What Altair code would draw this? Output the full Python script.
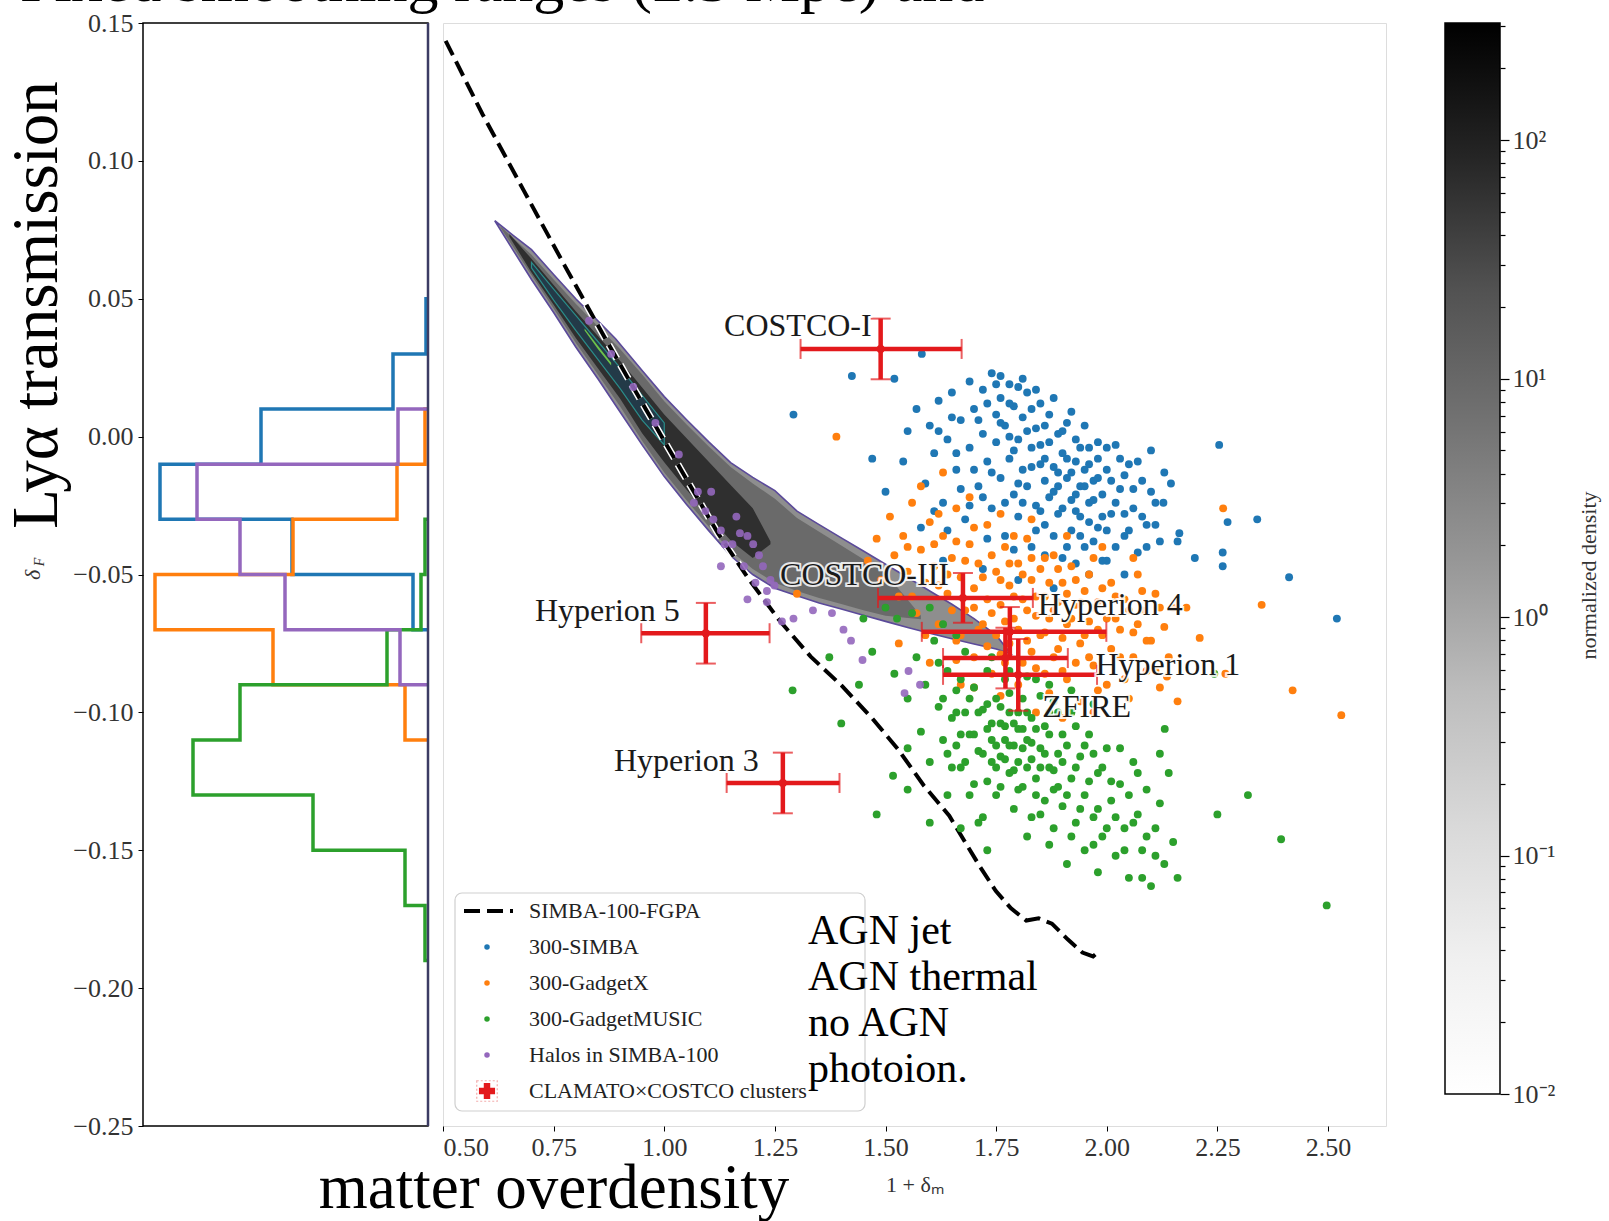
import altair as alt
import pandas as pd

W, H = 943, 1103  # main plot area (pixels)

# ---------------- data ----------------
x_ticks = [0.5, 0.75, 1.0, 1.25, 1.5, 1.75, 2.0, 2.25, 2.5]
y_ticks = [-0.25, -0.2, -0.15, -0.1, -0.05, 0.0, 0.05, 0.1, 0.15]
x_domain = [0.5, 2.631]
y_domain = [-0.25, 0.15]

series_names = ["300-SIMBA", "300-GadgetX", "300-GadgetMUSIC", "Halos in SIMBA-100"]
series_colors = ["#1f77b4", "#ff7f0e", "#2ca02c", "#9467bd"]

simba_pts = [
    (1.292, 0.008), (1.424, 0.022), (1.582, 0.030), (1.52, 0.021), (2.254, -0.003), (2.273, -0.031),
    (2.340, -0.030), (2.412, -0.051), (2.520, -0.066), (2.262, -0.042), (2.262, -0.047), (2.199, -0.044),
    (2.160, -0.038), (2.145, -0.017), (2.128, -0.024), (2.164, -0.035),
    (1.55, 0.002), (1.54, -0.009), (1.57, 0.010), (1.59, -0.017), (1.60, 0.004), (1.61, -0.006),
    (1.62, 0.013), (1.63, -0.024), (1.64, -0.001), (1.65, 0.016), (1.66, -0.012), (1.67, 0.006),
    (1.68, -0.030), (1.69, 0.020), (1.69, -0.004), (1.70, 0.010), (1.71, -0.018), (1.72, 0.001),
    (1.72, 0.017), (1.73, -0.009), (1.74, 0.023), (1.74, -0.026), (1.75, 0.008), (1.75, -0.002),
    (1.76, 0.014), (1.76, -0.015), (1.77, -0.036), (1.77, 0.004), (1.78, 0.019), (1.78, -0.008),
    (1.79, -0.021), (1.79, 0.011), (1.80, -0.001), (1.80, -0.029), (1.81, 0.007), (1.81, -0.012),
    (1.82, 0.016), (1.82, -0.018), (1.83, -0.004), (1.83, -0.040), (1.84, 0.003), (1.84, -0.025),
    (1.85, -0.010), (1.85, 0.012), (1.86, -0.016), (1.86, -0.032), (1.87, -0.002), (1.87, 0.008),
    (1.88, -0.020), (1.88, -0.011), (1.89, -0.028), (1.89, 0.001), (1.90, -0.006), (1.90, -0.044),
    (1.91, -0.015), (1.91, 0.005), (1.92, -0.023), (1.92, -0.034), (1.93, -0.009), (1.93, -0.001),
    (1.94, -0.018), (1.94, -0.029), (1.95, -0.012), (1.95, -0.040), (1.96, -0.004), (1.96, -0.024),
    (1.97, -0.016), (1.98, -0.033), (1.98, -0.008), (1.99, -0.021), (2.00, -0.012), (2.00, -0.045),
    (2.01, -0.028), (2.02, -0.003), (2.03, -0.019), (2.04, -0.036), (2.05, -0.010), (2.06, -0.026),
    (2.07, -0.042), (2.08, -0.016), (2.09, -0.032), (2.10, -0.005), (2.11, -0.024), (2.12, -0.038),
    (2.13, -0.013), (1.63, -0.045), (1.72, -0.048), (1.80, -0.052), (1.88, -0.055), (1.96, -0.050),
    (2.04, -0.050), (1.58, -0.033), (1.50, -0.020), (1.47, -0.008),
    (1.76, 0.005), (1.77, -0.024), (1.78, 0.000), (1.79, -0.005), (1.80, 0.018), (1.80, -0.017),
    (1.81, -0.024), (1.82, 0.002), (1.83, -0.011), (1.83, 0.010), (1.84, -0.034), (1.85, -0.003),
    (1.85, -0.027), (1.86, 0.004), (1.86, -0.008), (1.87, -0.022), (1.88, 0.014), (1.88, -0.036),
    (1.89, -0.013), (1.89, -0.018), (1.90, -0.026), (1.90, 0.002), (1.91, -0.008), (1.91, -0.040),
    (1.92, -0.013), (1.92, 0.009), (1.93, -0.027), (1.93, -0.021), (1.94, -0.004), (1.94, -0.036),
    (1.95, -0.018), (1.95, 0.004), (1.96, -0.031), (1.96, -0.010), (1.97, -0.023), (1.97, -0.038),
    (1.98, -0.002), (1.98, -0.015), (1.99, -0.029), (1.99, -0.045), (2.00, -0.004), (2.00, -0.034),
    (2.01, -0.016), (2.02, -0.024), (2.02, -0.040), (2.03, -0.008), (2.04, -0.028), (2.04, -0.014),
    (2.05, -0.034), (2.06, -0.019), (2.07, -0.009), (2.08, -0.029), (2.09, -0.040), (2.10, -0.020),
    (2.11, -0.032), (1.70, -0.012), (1.71, 0.006), (1.72, -0.022), (1.73, 0.012), (1.74, -0.013),
    (1.75, 0.019), (1.69, -0.025), (1.67, -0.019), (1.65, 0.007), (1.66, -0.006), (1.64, -0.034),
    (1.62, 0.002), (1.61, -0.027), (1.78, 0.012), (1.81, 0.021), (1.84, 0.017), (1.76, 0.022),
    (1.73, -0.037), (1.79, -0.041), (1.86, -0.043), (1.93, -0.046),
]

gadgetx_pts = [
    (1.389, 0.000), (1.30, -0.057), (2.263, -0.026), (2.350, -0.061), (2.420, -0.092), (2.530, -0.101),
    (2.268, -0.086), (2.136, -0.087), (2.21, -0.073), (2.18, -0.062),
    (1.46, -0.045), (1.48, -0.037), (1.49, -0.052), (1.51, -0.029), (1.52, -0.043), (1.53, -0.058),
    (1.54, -0.036), (1.55, -0.049), (1.56, -0.024), (1.57, -0.064), (1.58, -0.041), (1.59, -0.053),
    (1.60, -0.031), (1.61, -0.047), (1.62, -0.068), (1.63, -0.036), (1.64, -0.057), (1.65, -0.044),
    (1.66, -0.074), (1.66, -0.026), (1.67, -0.051), (1.68, -0.063), (1.69, -0.039), (1.70, -0.080),
    (1.70, -0.055), (1.71, -0.046), (1.72, -0.068), (1.73, -0.032), (1.73, -0.059), (1.74, -0.086),
    (1.75, -0.049), (1.75, -0.072), (1.76, -0.061), (1.77, -0.040), (1.77, -0.082), (1.78, -0.054),
    (1.79, -0.066), (1.80, -0.046), (1.80, -0.090), (1.81, -0.059), (1.82, -0.074), (1.82, -0.037),
    (1.83, -0.052), (1.84, -0.065), (1.84, -0.084), (1.85, -0.048), (1.86, -0.071), (1.86, -0.058),
    (1.87, -0.093), (1.88, -0.043), (1.88, -0.063), (1.89, -0.077), (1.90, -0.053), (1.91, -0.068),
    (1.91, -0.088), (1.92, -0.047), (1.93, -0.061), (1.94, -0.075), (1.94, -0.096), (1.95, -0.056),
    (1.96, -0.067), (1.97, -0.083), (1.97, -0.044), (1.98, -0.060), (1.99, -0.072), (2.00, -0.090),
    (2.01, -0.053), (2.02, -0.066), (2.03, -0.080), (2.04, -0.059), (2.05, -0.095), (2.06, -0.071),
    (2.07, -0.050), (2.08, -0.063), (2.09, -0.085), (2.10, -0.074), (2.11, -0.057), (2.12, -0.091),
    (2.13, -0.069), (2.14, -0.080), (2.15, -0.062), (2.16, -0.096), (1.60, -0.082), (1.67, -0.090),
    (1.53, -0.075), (1.58, -0.018), (1.63, -0.013), (1.69, -0.022), (1.76, -0.028), (1.83, -0.030),
    (1.91, -0.036), (1.99, -0.040), (2.06, -0.044), (1.97, -0.100), (1.90, -0.102), (1.84, -0.100),
    (1.70, -0.062), (1.71, -0.070), (1.72, -0.051), (1.73, -0.076), (1.74, -0.043), (1.74, -0.064),
    (1.76, -0.052), (1.76, -0.079), (1.77, -0.067), (1.78, -0.046), (1.78, -0.075), (1.79, -0.058),
    (1.80, -0.070), (1.81, -0.082), (1.81, -0.050), (1.82, -0.063), (1.83, -0.044), (1.83, -0.078),
    (1.84, -0.058), (1.85, -0.072), (1.86, -0.086), (1.86, -0.044), (1.87, -0.066), (1.87, -0.053),
    (1.88, -0.080), (1.89, -0.060), (1.89, -0.048), (1.90, -0.073), (1.90, -0.085), (1.91, -0.057),
    (1.92, -0.066), (1.93, -0.082), (1.93, -0.052), (1.94, -0.060), (1.95, -0.072), (1.96, -0.050),
    (1.96, -0.080), (1.97, -0.062), (1.98, -0.092), (1.98, -0.070), (1.99, -0.055), (2.00, -0.066),
    (2.01, -0.077), (2.02, -0.058), (2.03, -0.070), (2.04, -0.088), (2.05, -0.063), (2.06, -0.080),
    (2.07, -0.068), (2.08, -0.056), (2.09, -0.074), (2.11, -0.085), (2.12, -0.062), (1.64, -0.050),
    (1.65, -0.063), (1.66, -0.038), (1.67, -0.072), (1.68, -0.045), (1.62, -0.054), (1.61, -0.039),
    (1.59, -0.072), (1.56, -0.058), (1.55, -0.040), (1.66, -0.081), (1.70, -0.091), (1.76, -0.094),
    (1.62, -0.028), (1.70, -0.033), (1.79, -0.036),
]

music_pts = [
    (1.29, -0.092), (1.373, -0.080), (1.40, -0.104), (1.48, -0.137), (1.517, -0.123), (1.55, -0.128),
    (2.243, -0.086), (2.319, -0.130), (2.25, -0.137), (2.394, -0.146), (2.497, -0.170), (2.131, -0.106),
    (2.12, -0.115), (1.45, -0.066), (1.50, -0.062), (1.526, -0.066), (1.56, -0.064), (1.60, -0.062),
    (1.63, -0.068), (1.47, -0.078), (1.52, -0.086), (1.44, -0.090),
    (1.55, -0.095), (1.57, -0.080), (1.58, -0.107), (1.59, -0.090), (1.60, -0.118), (1.61, -0.074),
    (1.62, -0.098), (1.63, -0.110), (1.64, -0.085), (1.64, -0.130), (1.65, -0.102), (1.66, -0.092),
    (1.66, -0.112), (1.67, -0.120), (1.68, -0.078), (1.68, -0.100), (1.69, -0.108), (1.70, -0.091),
    (1.70, -0.126), (1.71, -0.114), (1.72, -0.099), (1.72, -0.138), (1.73, -0.106), (1.73, -0.085),
    (1.74, -0.118), (1.74, -0.110), (1.75, -0.095), (1.75, -0.130), (1.76, -0.104), (1.76, -0.116),
    (1.77, -0.088), (1.77, -0.110), (1.78, -0.122), (1.78, -0.100), (1.79, -0.112), (1.79, -0.135),
    (1.80, -0.106), (1.80, -0.118), (1.81, -0.095), (1.81, -0.127), (1.82, -0.110), (1.82, -0.145),
    (1.83, -0.117), (1.83, -0.102), (1.84, -0.124), (1.84, -0.088), (1.85, -0.113), (1.85, -0.137),
    (1.86, -0.105), (1.87, -0.120), (1.87, -0.148), (1.88, -0.128), (1.88, -0.096), (1.89, -0.115),
    (1.90, -0.134), (1.90, -0.108), (1.91, -0.155), (1.92, -0.124), (1.92, -0.100), (1.93, -0.140),
    (1.94, -0.116), (1.95, -0.130), (1.95, -0.150), (1.96, -0.108), (1.97, -0.138), (1.98, -0.122),
    (1.98, -0.158), (1.99, -0.145), (2.00, -0.113), (2.01, -0.132), (2.02, -0.152), (2.03, -0.126),
    (2.04, -0.142), (2.05, -0.160), (2.06, -0.118), (2.07, -0.137), (2.08, -0.150), (2.09, -0.128),
    (2.10, -0.163), (2.11, -0.142), (2.12, -0.133), (2.13, -0.155), (2.15, -0.147), (2.16, -0.160),
    (2.14, -0.122), (1.60, -0.140), (1.55, -0.113), (1.67, -0.142), (1.73, -0.150),
    (1.72, -0.115), (1.73, -0.097), (1.73, -0.125), (1.74, -0.104), (1.75, -0.112), (1.75, -0.120),
    (1.76, -0.098), (1.76, -0.127), (1.77, -0.117), (1.77, -0.105), (1.78, -0.112), (1.78, -0.093),
    (1.79, -0.104), (1.79, -0.121), (1.80, -0.100), (1.80, -0.128), (1.81, -0.113), (1.81, -0.106),
    (1.82, -0.120), (1.82, -0.100), (1.83, -0.111), (1.83, -0.138), (1.84, -0.106), (1.84, -0.130),
    (1.85, -0.120), (1.85, -0.094), (1.86, -0.115), (1.86, -0.132), (1.87, -0.108), (1.87, -0.100),
    (1.88, -0.121), (1.88, -0.142), (1.89, -0.127), (1.89, -0.100), (1.90, -0.118), (1.91, -0.130),
    (1.91, -0.112), (1.92, -0.145), (1.93, -0.120), (1.93, -0.105), (1.94, -0.135), (1.95, -0.112),
    (1.96, -0.125), (1.97, -0.148), (1.97, -0.115), (1.98, -0.135), (1.99, -0.120), (2.00, -0.142),
    (2.01, -0.125), (2.02, -0.138), (2.03, -0.113), (2.04, -0.150), (2.05, -0.130), (2.06, -0.140),
    (2.07, -0.122), (2.08, -0.160), (2.09, -0.145), (2.11, -0.152), (1.66, -0.100), (1.67, -0.088),
    (1.67, -0.108), (1.68, -0.118), (1.69, -0.095), (1.69, -0.130), (1.70, -0.108), (1.71, -0.100),
    (1.71, -0.140), (1.64, -0.115), (1.63, -0.095), (1.62, -0.082), (1.65, -0.120), (1.66, -0.072),
    (1.74, -0.080), (1.78, -0.085), (1.82, -0.087), (1.87, -0.090), (1.92, -0.092), (1.97, -0.097),
]

halo_pts = [
    (1.033, -0.0065), (1.067, -0.024), (1.093, -0.027), (1.111, -0.030), (1.128, -0.034), (1.163, -0.029),
    (1.171, -0.035), (1.188, -0.036), (1.201, -0.039), (1.214, -0.043), (1.223, -0.047), (1.240, -0.052),
    (1.249, -0.054), (1.232, -0.056), (1.206, -0.053), (1.180, -0.047), (1.154, -0.039), (1.137, -0.039),
    (1.128, -0.047), (1.188, -0.059), (1.232, -0.060), (1.266, -0.067), (1.292, -0.066), (1.336, -0.063),
    (1.379, -0.064), (1.405, -0.070), (1.422, -0.074), (1.448, -0.081), (1.552, -0.085), (1.578, -0.090),
    (1.543, -0.093), (1.076, -0.020), (1.106, -0.020), (0.98, 0.005), (0.93, 0.018), (0.88, 0.030),
    (0.83, 0.042),
]

# SIMBA-100-FGPA relation (dashed)
fgpa_x = [0.506, 0.589, 0.682, 0.774, 0.867, 0.960, 1.041, 1.122, 1.192, 1.261, 1.331, 1.401, 1.470,
          1.528, 1.586, 1.644, 1.679, 1.714, 1.749, 1.783, 1.818, 1.846, 1.876, 1.911, 1.945, 1.969, 1.980]
fgpa_y = [0.1435, 0.117, 0.0894, 0.0623, 0.0355, 0.0095, -0.0129, -0.0352, -0.0519, -0.0668, -0.0798,
          -0.0903, -0.1022, -0.1133, -0.1264, -0.1375, -0.1468, -0.1561, -0.1647, -0.1710, -0.1755,
          -0.1747, -0.1766, -0.1822, -0.1871, -0.1885, -0.1870]

# density contour of SIMBA-100 (outer, middle, inner levels)
band_x = [0.617, 0.66, 0.70, 0.75, 0.80, 0.85, 0.89, 0.95, 1.00, 1.05, 1.10, 1.15, 1.20, 1.25, 1.30,
          1.35, 1.40, 1.45, 1.50, 1.55, 1.60, 1.65, 1.70, 1.75, 1.783]
band_hi = [0.0783, 0.0728, 0.0678, 0.0588, 0.0500, 0.0420, 0.0355, 0.0240, 0.0145, 0.0062, -0.0018,
           -0.0094, -0.0148, -0.0196, -0.0270, -0.0319, -0.0367, -0.0415, -0.0463, -0.0511, -0.0560,
           -0.0608, -0.0660, -0.0720, -0.0787]
band_lo = [0.0783, 0.0672, 0.0570, 0.0450, 0.0325, 0.0210, 0.0114, -0.0030, -0.0145, -0.0245, -0.0340,
           -0.0432, -0.0500, -0.0550, -0.0577, -0.0603, -0.0625, -0.0648, -0.0670, -0.0692, -0.0713,
           -0.0733, -0.0752, -0.0770, -0.0787]
mid_x = [0.63, 0.70, 0.75, 0.80, 0.85, 0.90, 0.95, 1.00, 1.05, 1.10, 1.15, 1.20, 1.25, 1.30, 1.35,
         1.40, 1.45, 1.50, 1.58]
mid_hi = [0.0762, 0.0660, 0.0570, 0.0482, 0.0400, 0.0318, 0.0225, 0.0128, 0.0045, -0.0035, -0.0110,
          -0.0170, -0.0225, -0.0295, -0.0345, -0.0395, -0.0445, -0.0495, -0.0650]
mid_lo = [0.0758, 0.0585, 0.0465, 0.0340, 0.0225, 0.0110, -0.0015, -0.0130, -0.0230, -0.0325, -0.0415,
          -0.0480, -0.0530, -0.0560, -0.0585, -0.0607, -0.0630, -0.0650, -0.0662]
core_x = [0.65, 0.70, 0.75, 0.80, 0.85, 0.90, 0.95, 1.00, 1.05, 1.10, 1.15, 1.20, 1.24]
core_hi = [0.0735, 0.0645, 0.0550, 0.0455, 0.0365, 0.0275, 0.0178, 0.0080, -0.0005, -0.0090, -0.0175,
           -0.0260, -0.0380]
core_lo = [0.0725, 0.0595, 0.0478, 0.0358, 0.0248, 0.0138, 0.0012, -0.0093, -0.0192, -0.0287, -0.0377,
           -0.0440, -0.0390]
vir_x = [0.70, 0.75, 0.80, 0.85, 0.90, 0.95, 1.00]
vir_hi = [0.0632, 0.0535, 0.0440, 0.0345, 0.0250, 0.0150, 0.0050]
vir_lo = [0.0612, 0.0495, 0.0385, 0.0280, 0.0175, 0.0060, -0.0030]
lime_x = [0.82, 0.85, 0.88]
lime_hi = [0.0392, 0.0330, 0.0268]
lime_lo = [0.0385, 0.0318, 0.0258]

# CLAMATO x COSTCO clusters
cl_names = ["COSTCO-I", "COSTCO-III", "Hyperion 4", "Hyperion 1", "ZFIRE", "Hyperion 5", "Hyperion 3"]
cl_x = [1.489, 1.675, 1.781, 1.771, 1.800, 1.094, 1.268]
cl_y = [0.0318, -0.0585, -0.0708, -0.0803, -0.0864, -0.0713, -0.1256]
cl_xlo = [1.308, 1.483, 1.582, 1.630, 1.630, 0.948, 1.141]
cl_xhi = [1.672, 1.833, 1.999, 1.912, 1.978, 1.238, 1.396]
cl_yerr = [0.011, 0.009, 0.009, 0.011, 0.013, 0.011, 0.011]

# marginal histograms of delta_F (bin edges top -> bottom, counts)
hist_edges = {
    "300-SIMBA": [0.05, 0.03, 0.01, -0.01, -0.03, -0.05, -0.07],
    "300-GadgetX": [0.01, -0.01, -0.03, -0.05, -0.07, -0.09, -0.11],
    "300-GadgetMUSIC": [-0.03, -0.05, -0.07, -0.09, -0.11, -0.13, -0.15, -0.17, -0.19],
    "Halos in SIMBA-100": [0.01, -0.01, -0.03, -0.05, -0.07, -0.09],
}
hist_counts = {
    "300-SIMBA": [0.2, 3.5, 16.7, 26.8, 13.6, 1.5],
    "300-GadgetX": [0.3, 3.1, 13.5, 27.3, 15.5, 2.3],
    "300-GadgetMUSIC": [0.3, 0.7, 4.1, 18.8, 23.5, 11.5, 2.3, 0.3],
    "Halos in SIMBA-100": [3.0, 23.1, 18.8, 14.3, 2.8],
}
hist_max = 28.5

# colorbar
cb_domain = [0.01, 310]
cb_major = [0.01, 0.1, 1, 10, 100]
cb_minor_mult = [2, 3, 4, 5, 6, 7, 8, 9]
greys_stops = ["#ffffff", "#f0f0f0", "#d9d9d9", "#bdbdbd", "#969696", "#737373", "#525252", "#252525", "#000000"]

legend_labels = ["SIMBA-100-FGPA", "300-SIMBA", "300-GadgetX", "300-GadgetMUSIC", "Halos in SIMBA-100",
                 "CLAMATO×COSTCO clusters"]
agn_lines = ["AGN jet", "AGN thermal", "no AGN", "photoion."]
title_text = "Fixed smoothing ranges (2.5 Mpc) and"

RED = "#e3191c"
FONT = "Liberation Serif"

# ---------------- tables ----------------
def pts_df(pts, name):
    return pd.DataFrame({"x": [p[0] for p in pts], "y": [p[1] for p in pts], "series": name})

scatter_df = pd.concat([pts_df(simba_pts, series_names[0]), pts_df(gadgetx_pts, series_names[1]),
                        pts_df(music_pts, series_names[2])], ignore_index=True)
halo_df = pts_df(halo_pts, series_names[3])
fgpa_df = pd.DataFrame({"x": fgpa_x, "y": fgpa_y, "i": range(len(fgpa_x))})
band_df = pd.DataFrame({"x": band_x, "lo": band_lo, "hi": band_hi})
mid_df = pd.DataFrame({"x": mid_x, "lo": mid_lo, "hi": mid_hi})
core_df = pd.DataFrame({"x": core_x, "lo": core_lo, "hi": core_hi})
vir_df = pd.DataFrame({"x": vir_x, "lo": vir_lo, "hi": vir_hi})
lime_df = pd.DataFrame({"x": lime_x, "lo": lime_lo, "hi": lime_hi})
cl_df = pd.DataFrame({"name": cl_names, "x": cl_x, "y": cl_y, "xlo": cl_xlo, "xhi": cl_xhi,
                      "ylo": [a - b for a, b in zip(cl_y, cl_yerr)],
                      "yhi": [a + b for a, b in zip(cl_y, cl_yerr)]})

rows = []
for s in series_names:
    e, c = hist_edges[s], hist_counts[s]
    seq = [(0.0, e[0])]
    for k in range(len(c)):
        seq.append((c[k], e[k]))
        seq.append((c[k], e[k + 1]))
    seq.append((0.0, e[-1]))
    for i, (cc, yy) in enumerate(seq):
        rows.append({"series": s, "c": cc, "y": yy, "i": i})
hist_df = pd.DataFrame(rows)

cb_ticks = sorted(cb_major + [m * v for v in cb_major for m in cb_minor_mult if m * v <= cb_domain[1]])
cb_df = pd.DataFrame({"lo": [cb_domain[0]], "hi": [cb_domain[1]]})
one = pd.DataFrame({"k": [0]})

# ---------------- scales / axes ----------------
xs = alt.Scale(domain=x_domain, nice=False, zero=False)
ys = alt.Scale(domain=y_domain, nice=False, zero=False)
x_axis = alt.Axis(values=x_ticks, format=".2f", title="1 + δₘ", labelFontSize=26, titleFontSize=22,
                  tickSize=5, labelPadding=3, titlePadding=14, grid=False, domain=False,
                  labelColor="#333333", titleColor="#333333", titleFontWeight="normal",
                  labelFont=FONT, titleFont=FONT, tickColor="black")
y_axis = alt.Axis(values=y_ticks, format=".2f", title=None, orient="left", offset=300, labelFontSize=26,
                  tickSize=5, labelPadding=5, grid=False, domain=False, labelColor="#333333",
                  labelFont=FONT, tickColor="black")
color_scale = alt.Scale(domain=series_names, range=series_colors)


def X(f):
    return alt.X(f, type="quantitative", scale=xs, axis=x_axis)


def Y(f):
    return alt.Y(f, type="quantitative", scale=ys, axis=y_axis)


# ---------------- main panel ----------------
def band(df, fill, stroke=None, sw=0):
    kw = dict(fill=fill, orient="vertical", opacity=1)
    if stroke:
        kw.update(stroke=stroke, strokeWidth=sw)
    return alt.Chart(df).mark_area(**kw).encode(x=X("x"), y=Y("lo"), y2="hi")


layers = [
    band(band_df, "#8e8e8e", "#5b4a9a", 1.6),
    band(mid_df, "#6a6a6a"),
    band(core_df, "#2f2f2f"),
    band(vir_df, "#233a48", "#2a8c8a", 1.2),
    band(lime_df, "#6cc24a"),
    alt.Chart(fgpa_df).mark_line(color="white", strokeWidth=7, strokeDash=[16, 7]).encode(
        x=X("x"), y=Y("y"), order="i:Q"),
    alt.Chart(fgpa_df).mark_line(color="black", strokeWidth=4, strokeDash=[16, 7]).encode(
        x=X("x"), y=Y("y"), order="i:Q"),
    alt.Chart(scatter_df).mark_circle(size=62, opacity=1).encode(
        x=X("x"), y=Y("y"), color=alt.Color("series:N", scale=color_scale, legend=None)),
    alt.Chart(halo_df).mark_circle(size=62, opacity=0.9).encode(
        x=X("x"), y=Y("y"), color=alt.Color("series:N", scale=color_scale, legend=None)),
    alt.Chart(cl_df).mark_rule(color=RED, strokeWidth=4.5).encode(x=X("xlo"), x2="xhi", y=Y("y")),
    alt.Chart(cl_df).mark_rule(color=RED, strokeWidth=4.5).encode(x=X("x"), y=Y("ylo"), y2="yhi"),
    alt.Chart(cl_df).mark_tick(color=RED, orient="vertical", size=20, thickness=2).encode(x=X("xlo"), y=Y("y")),
    alt.Chart(cl_df).mark_tick(color=RED, orient="vertical", size=20, thickness=2).encode(x=X("xhi"), y=Y("y")),
    alt.Chart(cl_df).mark_tick(color=RED, orient="horizontal", size=20, thickness=2).encode(x=X("x"), y=Y("ylo")),
    alt.Chart(cl_df).mark_tick(color=RED, orient="horizontal", size=20, thickness=2).encode(x=X("x"), y=Y("yhi")),
    alt.Chart(cl_df).mark_circle(color=RED, size=70, opacity=1).encode(x=X("x"), y=Y("y")),
]

# cluster labels (offsets in pixels from the cluster point)
label_style = {
    "COSTCO-I": ("right", -9, -23),
    "COSTCO-III": ("right", -14, -23),
    "Hyperion 4": ("left", 28, -27),
    "Hyperion 1": ("left", 90, 7),
    "ZFIRE": ("left", 24, 32),
    "Hyperion 5": ("right", -26, -22),
    "Hyperion 3": ("right", -24, -22),
}
for nm, (al, dx, dy) in label_style.items():
    base = alt.Chart(cl_df).transform_filter(alt.datum.name == nm)
    layers.append(base.mark_text(align=al, baseline="middle", dx=dx, dy=dy, fontSize=32, font=FONT,
                                 stroke="white", strokeWidth=4, strokeOpacity=0.85, fill="white").encode(
        x=X("x"), y=Y("y"), text="name:N"))
    layers.append(base.mark_text(align=al, baseline="middle", dx=dx, dy=dy, fontSize=32, font=FONT,
                                 color="#1a1a1a").encode(x=X("x"), y=Y("y"), text="name:N"))

# legend box
layers.append(alt.Chart(one).mark_rect(fill="white", fillOpacity=0.8, stroke="#cfcfcf", strokeWidth=1.2,
                                       cornerRadius=7).encode(
    x=alt.value(12), x2=alt.value(422), y=alt.value(870), y2=alt.value(1088)))
leg_y0, leg_dy = 888, 36
layers.append(alt.Chart(one).mark_rule(color="black", strokeWidth=4, strokeDash=[16, 7]).encode(
    x=alt.value(21), x2=alt.value(70), y=alt.value(leg_y0)))
for i in range(1, 5):
    layers.append(alt.Chart(one).mark_circle(size=30, opacity=1, color=series_colors[i - 1]).encode(
        x=alt.value(44), y=alt.value(leg_y0 + leg_dy * i)))
layers.append(alt.Chart(one).mark_square(size=420, filled=False, stroke="#f08a8a", strokeWidth=1.2,
                                         strokeDash=[2, 2]).encode(x=alt.value(44), y=alt.value(leg_y0 + leg_dy * 5)))
layers.append(alt.Chart(one).mark_point(shape="cross", filled=True, size=260, color=RED, opacity=1).encode(
    x=alt.value(44), y=alt.value(leg_y0 + leg_dy * 5)))
for i, lab in enumerate(legend_labels):
    layers.append(alt.Chart(pd.DataFrame({"t": [lab]})).mark_text(
        align="left", baseline="middle", fontSize=22, font=FONT, color="#222222").encode(
        x=alt.value(86), y=alt.value(leg_y0 + leg_dy * i), text="t:N"))

# model text block
for i, t in enumerate(agn_lines):
    layers.append(alt.Chart(pd.DataFrame({"t": [t]})).mark_text(
        align="left", baseline="middle", fontSize=42, font=FONT, color="black").encode(
        x=alt.value(365), y=alt.value(908 + 46 * i), text="t:N"))

# figure-level texts
layers.append(alt.Chart(pd.DataFrame({"t": ["Lyα transmission"]})).mark_text(
    angle=270, align="center", baseline="alphabetic", fontSize=65, font=FONT, color="black").encode(
    x=alt.value(-386), y=alt.value(282), text="t:N"))
layers.append(alt.Chart(pd.DataFrame({"t": ["matter overdensity"]})).mark_text(
    align="center", baseline="alphabetic", fontSize=63, font=FONT, color="black").encode(
    x=alt.value(111), y=alt.value(1185), text="t:N"))
layers.append(alt.Chart(pd.DataFrame({"t": [title_text]})).mark_text(
    align="left", baseline="alphabetic", fontSize=62, font=FONT, color="black").encode(
    x=alt.value(-423), y=alt.value(-22), text="t:N"))
layers.append(alt.Chart(pd.DataFrame({"t": ["δ"]})).mark_text(
    angle=270, align="center", baseline="middle", fontSize=22, font=FONT, fontStyle="italic",
    color="#333333").encode(x=alt.value(-410), y=alt.value(552), text="t:N"))
layers.append(alt.Chart(pd.DataFrame({"t": ["F"]})).mark_text(
    angle=270, align="center", baseline="middle", fontSize=14, font=FONT, fontStyle="italic",
    color="#333333").encode(x=alt.value(-403), y=alt.value(539), text="t:N"))

main_group = alt.layer(*layers)

# ---------------- marginal histogram panel ----------------
hx = alt.Scale(domain=[0, hist_max], range=[-15, -300], nice=False, zero=False)
hist_group = alt.layer(
    alt.Chart(hist_df).mark_line(strokeWidth=3.5, interpolate="linear").encode(
        x=alt.X("c:Q", scale=hx, axis=None), y=Y("y"), detail="series:N", order="i:Q",
        color=alt.Color("series:N", scale=color_scale, legend=None)),
    alt.Chart(one).mark_rect(fill=None, stroke="black", strokeWidth=1.5).encode(
        x=alt.value(-300), x2=alt.value(-15), y=alt.value(0), y2=alt.value(H)),
    alt.Chart(one).mark_rule(color="#3c3c64", strokeWidth=2.5).encode(
        x=alt.value(-15), y=alt.value(0), y2=alt.value(H)),
)

inner = alt.layer(main_group, hist_group).resolve_scale(x="independent")

# ---------------- colorbar ----------------
major_test = "abs(log(datum.value)/LN10 - round(log(datum.value)/LN10)) < 0.001"
cb_axis = alt.Axis(
    orient="right", offset=114, values=cb_ticks, grid=False, domain=False,
    labelExpr=major_test + " ? '10' + ['⁻²','⁻¹','⁰','¹','²'][round(log(datum.value)/LN10) + 2] : ''",
    tickSize={"condition": {"test": major_test, "value": 9}, "value": 5},
    tickColor="black", tickWidth=1.2, labelFontSize=26, labelFont=FONT, labelColor="#333333",
    labelPadding=3, title="normalized density", titleAngle=270, titleX=88, titleY=552,
    titleAlign="center", titleBaseline="middle", titleFontSize=22, titleFont=FONT,
    titleFontWeight="normal", titleColor="#333333")
gradient = alt.LinearGradient(
    gradient="linear", x1=0, x2=0, y1=1, y2=0,
    stops=[alt.GradientStop(offset=i / (len(greys_stops) - 1), color=c) for i, c in enumerate(greys_stops)])
cb = alt.Chart(cb_df).mark_rect(fill=gradient, stroke="black", strokeWidth=1.5).encode(
    x=alt.value(1002), x2=alt.value(1057),
    y=alt.Y("lo:Q", scale=alt.Scale(type="log", domain=cb_domain, range=[1071, 0], nice=False), axis=cb_axis),
    y2="hi:Q")

chart = alt.layer(inner, cb).resolve_scale(y="independent").properties(
    width=W, height=H,
    autosize=alt.AutoSizeParams(type="none"),
    padding={"left": 443, "top": 23, "right": 1609 - 443 - W, "bottom": 1221 - 23 - H},
).configure_view(stroke="black", strokeWidth=1.5).configure(font=FONT)

chart.save("out.html", embed_options={"renderer": "svg", "actions": False})
